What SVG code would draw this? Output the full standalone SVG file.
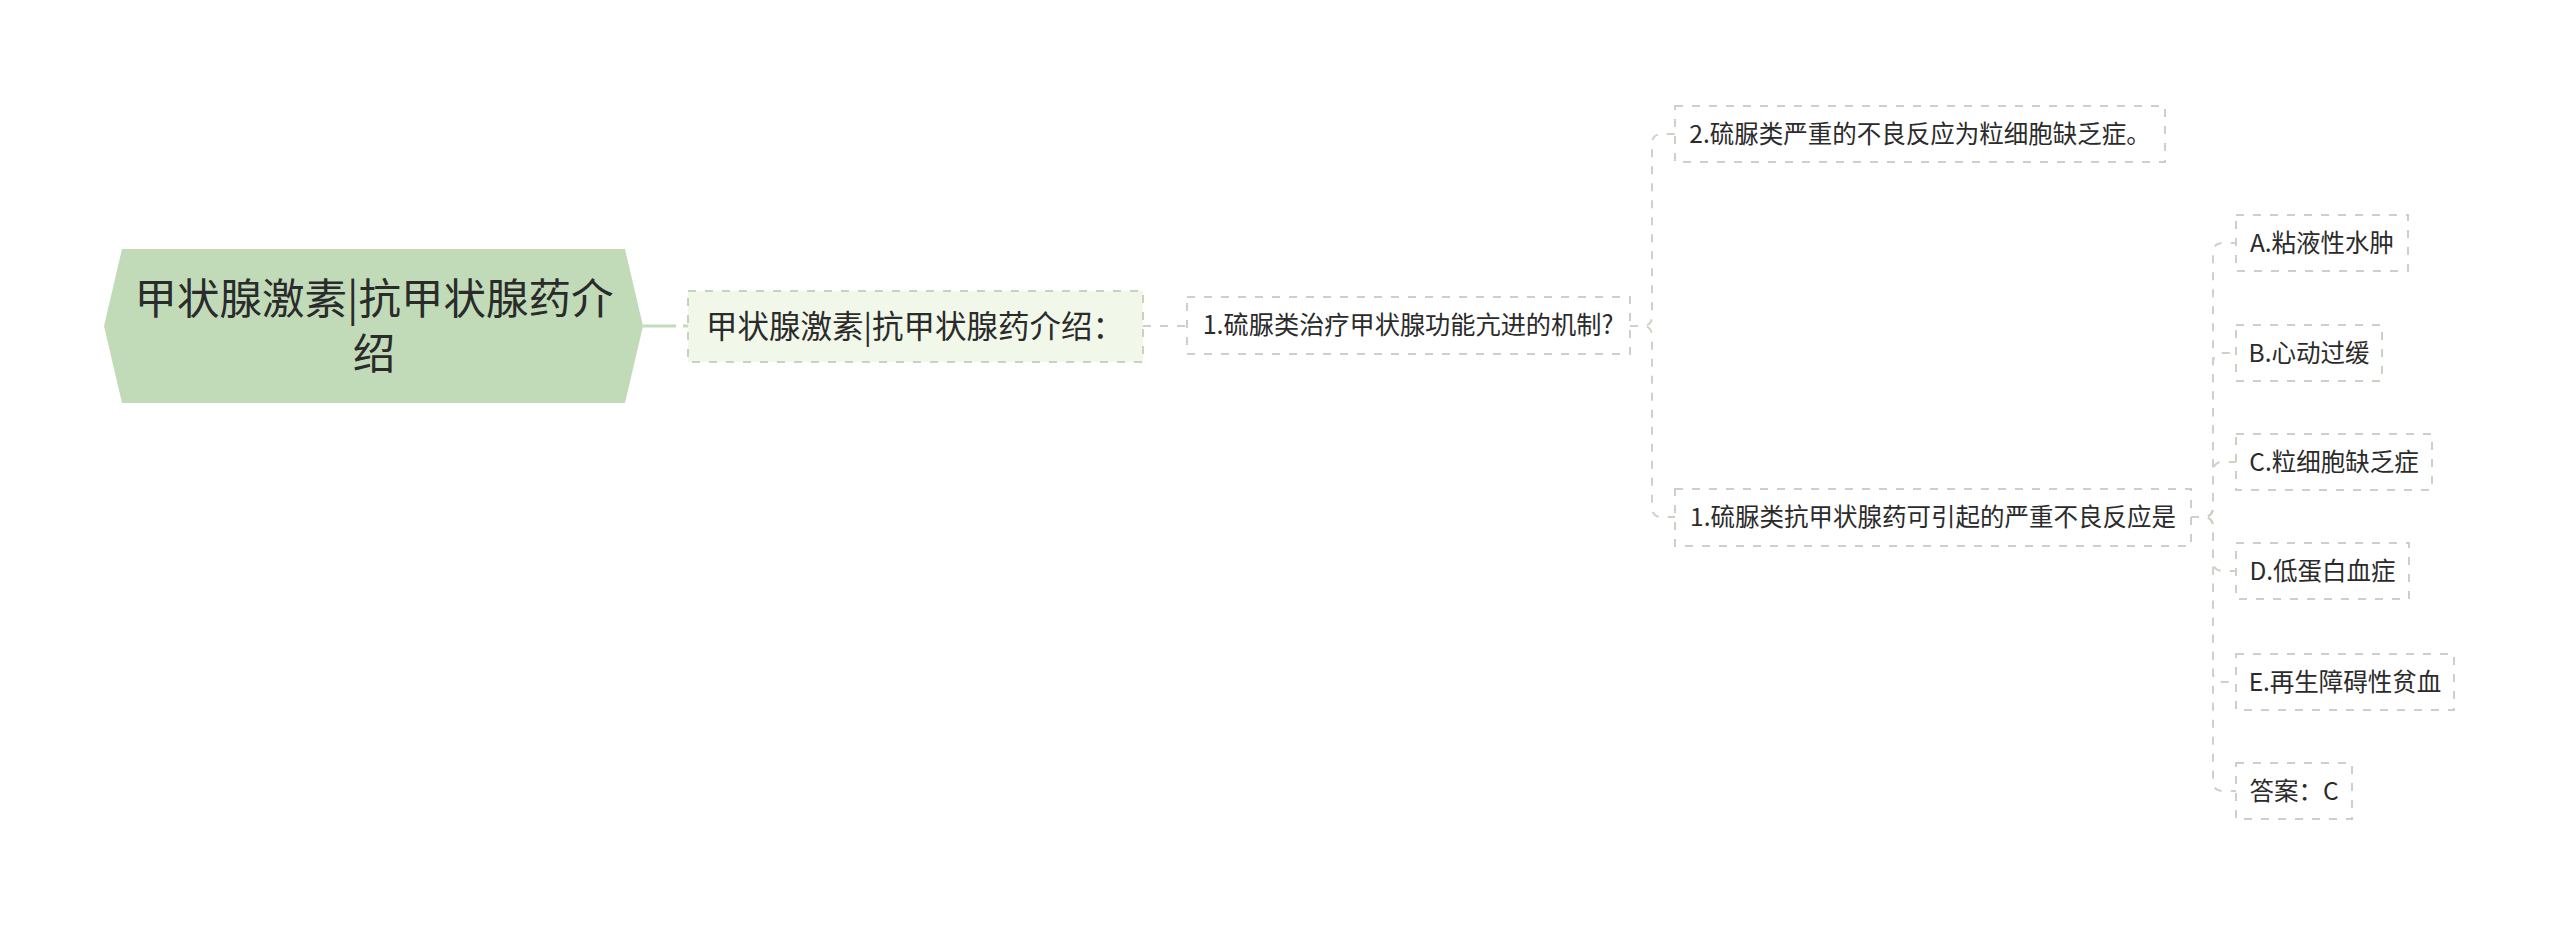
<svg xmlns="http://www.w3.org/2000/svg" width="2560" height="926" viewBox="0 0 2560 926">
<style>
  text { font-family: "Microsoft YaHei", "Noto Sans CJK SC", "Noto Sans", sans-serif; fill: #2b2b2b; text-anchor: middle; }
  .root-text { font-size: 42.5px; }
  .l1-text { font-size: 31.5px; }
  .n-text { font-size: 24.5px; }
  .q-text { font-size: 25.2px; }
  .box { fill: #ffffff; stroke: #c9d2c4; stroke-width: 2; stroke-dasharray: 8 9; }
  .box1 { fill: #f1f8ea; stroke: #c3d6b9; stroke-width: 2; stroke-dasharray: 8 9; }
  .conn { fill: none; stroke: #cad3c6; stroke-width: 2; stroke-dasharray: 8 9; }
  .conn-root { fill: none; stroke: #c3dcbb; stroke-width: 3; }
</style>
<rect width="2560" height="926" fill="#ffffff"/>
<g id="connectors">
  <path class="conn-root" d="M643,326 H676"/>
  <path class="conn-root" d="M683,326 H688"/>
  <path class="conn" d="M1143,326 H1187"/>
  <path class="conn" d="M1630,326 H1642 Q1652,326 1652,316 V144 Q1652,134 1662,134 H1675"/>
  <path class="conn" d="M1630,326 H1642 Q1652,326 1652,336 V507 Q1652,517 1662,517 H1675"/>
  <path class="conn" d="M2191,517 H2203 Q2213,517 2213,507 V253 Q2213,243 2223,243 H2236"/>
  <path class="conn" d="M2191,517 H2203 Q2213,517 2213,507 V363 Q2213,353 2223,353 H2236"/>
  <path class="conn" d="M2191,517 H2203 Q2213,517 2213,507 V472 Q2213,462 2223,462 H2236"/>
  <path class="conn" d="M2191,517 H2203 Q2213,517 2213,527 V561 Q2213,571 2223,571 H2236"/>
  <path class="conn" d="M2191,517 H2203 Q2213,517 2213,527 V672 Q2213,682 2223,682 H2236"/>
  <path class="conn" d="M2191,517 H2203 Q2213,517 2213,527 V781 Q2213,791 2223,791 H2236"/>
</g>
<g id="root">
  <polygon points="104,326 122,249 625,249 643,326 625,403 122,403" fill="#c1dbb9"/>
  <text class="root-text" x="374" y="314">甲状腺激素|抗甲状腺药介</text>
  <text class="root-text" x="374" y="369">绍</text>
</g>
<g id="node-intro">
  <rect class="box1" x="688" y="291" width="455" height="71"/>
  <text class="l1-text" x="915" y="338">甲状腺激素|抗甲状腺药介绍：</text>
</g>
<g id="node-q1">
  <rect class="box" x="1187" y="297" width="443" height="57"/>
  <text class="q-text" x="1408" y="334">1.硫脲类治疗甲状腺功能亢进的机制?</text>
</g>
<g id="node-a2">
  <rect class="box" x="1675" y="106" width="490" height="56"/>
  <text class="n-text" x="1920" y="143">2.硫脲类严重的不良反应为粒细胞缺乏症。</text>
</g>
<g id="node-q2">
  <rect class="box" x="1675" y="489" width="516" height="57"/>
  <text class="n-text" x="1933" y="526">1.硫脲类抗甲状腺药可引起的严重不良反应是</text>
</g>
<g id="opt-a">
  <rect class="box" x="2236" y="215" width="172" height="56"/>
  <text class="n-text" x="2322" y="252">A.粘液性水肿</text>
</g>
<g id="opt-b">
  <rect class="box" x="2236" y="325" width="146" height="56"/>
  <text class="n-text" x="2309" y="362">B.心动过缓</text>
</g>
<g id="opt-c">
  <rect class="box" x="2236" y="434" width="196" height="56"/>
  <text class="n-text" x="2334" y="471">C.粒细胞缺乏症</text>
</g>
<g id="opt-d">
  <rect class="box" x="2236" y="543" width="173" height="56"/>
  <text class="n-text" x="2322.5" y="580">D.低蛋白血症</text>
</g>
<g id="opt-e">
  <rect class="box" x="2236" y="654" width="218" height="56"/>
  <text class="n-text" x="2345" y="691">E.再生障碍性贫血</text>
</g>
<g id="answer">
  <rect class="box" x="2236" y="763" width="116" height="56"/>
  <text class="n-text" x="2294" y="800">答案：C</text>
</g>
</svg>
